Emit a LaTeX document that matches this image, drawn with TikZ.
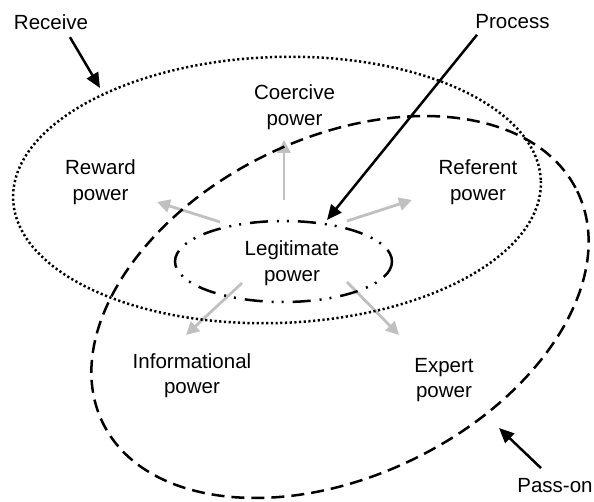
\documentclass[tikz,border=0pt]{standalone}
\usepackage{fontspec}
\setmainfont{Liberation Sans}
\usetikzlibrary{arrows.meta}
\definecolor{spokegray}{RGB}{192,192,192}

\begin{document}
\begin{tikzpicture}[x=1pt, y=-1pt,
    power/.style={align=center, inner sep=2pt, font=\fontsize{20.5}{25.5}\selectfont},
    callout/.style={line width=2.5pt, -{Triangle[length=15pt,width=13pt]}},
    spoke/.style={line width=2.8pt, draw=spokegray, -{Triangle[length=13pt,width=13pt]}},
    receivering/.style={line width=2.5pt, dash pattern=on 2.2pt off 2.5pt},
    passring/.style={line width=2.5pt, dash pattern=on 13pt off 7pt},
    legitring/.style={line width=2.5pt, dash pattern=on 18pt off 9pt on 2pt off 8pt on 2pt off 9pt}
    ]
    \useasboundingbox (0,0) rectangle (594,502);

    % labels
    \node[power] (receive) at (51,22.5) {Receive};
    \node[power] (process) at (512.5,21.5) {Process};
    \node[power] (passon) at (555,485.5) {Pass-on};
    \node[power] (coercive) at (294.5,107) {Coercive\\power};
    \node[power] (reward) at (100.5,182) {Reward\\power};
    \node[power] (referent) at (478,182) {Referent\\power};
    \node[power] (legit) at (292,263) {Legitimate\\power};
    \node[power] (informational) at (192,375.5) {Informational\\power};
    \node[power] (expert) at (444,380) {Expert\\power};

    % spoke ends
    \coordinate (coerciveFrom) at (284,200);
    \coordinate (coerciveTo) at (284,140);
    \coordinate (rewardFrom) at (220,222);
    \coordinate (rewardTo) at (157,202);
    \coordinate (referentFrom) at (347,221);
    \coordinate (referentTo) at (412,200);
    \coordinate (informationalFrom) at (242,283);
    \coordinate (informationalTo) at (186,335);
    \coordinate (expertFrom) at (347,282);
    \coordinate (expertTo) at (399,335);

    \draw[spoke] (coerciveFrom) -- (coerciveTo);
    \draw[spoke] (rewardFrom) -- (rewardTo);
    \draw[spoke] (referentFrom) -- (referentTo);
    \draw[spoke] (informationalFrom) -- (informationalTo);
    \draw[spoke] (expertFrom) -- (expertTo);

    % rings
    \draw[receivering, rotate around={2:(277,190)}] (277,190) ellipse [x radius=264, y radius=133];
    \draw[passring, rotate around={26:(340,307)}] (340,307) ellipse [x radius=264, y radius=169];
    \draw[legitring] (283.5,261.5) ellipse [x radius=108.5, y radius=40.5];

    % callouts
    \coordinate (rcvtip) at (100,88);
    \coordinate (proctip) at (327,220);
    \coordinate (passtip) at (499,428);
    \draw[callout, shorten <=5.8pt] ([xshift=16pt]receive.south) -- (rcvtip);
    \draw[callout, shorten <=5.1pt] ([xshift=-32.3pt]process.south) -- (proctip);
    \draw[callout, shorten <=11.6pt] ([xshift=-5.6pt]passon.north) -- (passtip);
  \end{tikzpicture}
\end{document}
